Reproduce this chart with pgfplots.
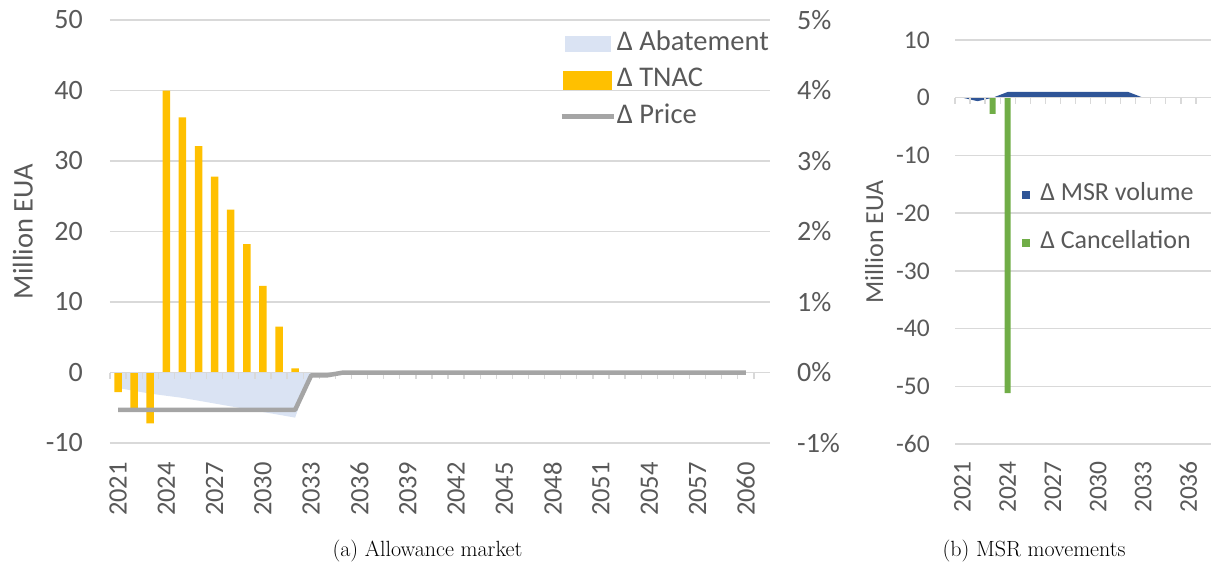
\documentclass[border=0pt]{standalone}
\usepackage{pgfplots}
\pgfplotsset{compat=1.18}
\usepackage{fontspec}
\newfontfamily\calibri{Carlito}
\definecolor{txt}{HTML}{595959}
\definecolor{gridc}{HTML}{D9D9D9}
\definecolor{tnac}{HTML}{FFC000}
\definecolor{abate}{HTML}{DAE3F3}
\definecolor{price}{HTML}{A5A5A5}
\definecolor{msr}{HTML}{2F5597}
\definecolor{canc}{HTML}{70AD47}
\pgfplotsset{
  chartbase/.style={
    scale only axis, anchor=south west,
    axis line style={draw=none},
    tick style={draw=none},
    tick label style={text=txt},
    ymajorgrids, grid style={gridc, line width=1.3pt},
    ylabel style={anchor=center, text=txt},
    xlabel style={anchor=base, font=\fontsize{22}{22}\selectfont, text=black},
  },
  zeroline/.style={
    scale only axis, anchor=south west,
    axis x line*=middle, axis y line*=right,
    x axis line style={gridc, line width=1.5pt},
    y axis line style={draw=none},
    xticklabels={}, tick align=outside, major tick length=6pt,
    xtick style={gridc, line width=1.3pt},
    ytick style={draw=none},
  },
}
\begin{document}
\begin{tikzpicture}[x=1pt,y=1pt]
\useasboundingbox (0,0) rectangle (1216,563);

% ---------------- (a) Allowance market ----------------
\begin{axis}[chartbase,
  at={(110pt,120pt)}, width=660pt, height=423pt,
  xmin=-0.5, xmax=40.5, ymin=-10, ymax=50,
  ytick={-10,0,10,20,30,40,50}, yticklabels={-10,0,10,20,30,40,50},
  yticklabel style={font=\calibri\fontsize{28}{28}\selectfont, inner sep=0pt, anchor=east, xshift=-27pt},
  xticklabel style={font=\calibri\fontsize{26.5}{26.5}\selectfont, inner sep=0pt, yshift=-19pt, rotate=90, anchor=east},
  xtick={0,3,...,39},
  xticklabels={2021,2024,2027,2030,2033,2036,2039,2042,2045,2048,2051,2054,2057,2060},
  ylabel={Million EUA}, ylabel style={at={(axis description cs:-0.132,0.5)}, font=\calibri\fontsize{28.5}{28.5}\selectfont},
  xlabel={(a) Allowance market}, xlabel style={at={(axis description cs:0.481,0)}, yshift=-113pt},
]
\addplot[fill=abate, draw=none] coordinates {
 (0,0) (0,-2.2) (1,-2.6) (2,-3.0) (3,-3.3) (4,-3.6) (5,-4.0) (6,-4.4) (7,-4.8)
 (8,-5.2) (9,-5.6) (10,-6.0) (11,-6.4) (12,0)};
\addplot[ybar, bar width=7.5pt, bar shift=0pt, fill=tnac, draw=none] coordinates {
 (0,-2.8) (1,-5.0) (2,-7.2) (3,40.0) (4,36.2) (5,32.1) (6,27.8) (7,23.1)
 (8,18.2) (9,12.3) (10,6.5) (11,0.6)};
\end{axis}

\begin{axis}[zeroline,
  at={(110pt,120pt)}, width=660pt, height=423pt,
  xmin=-0.5, xmax=40.5, ymin=-1, ymax=5,
  xtick={-0.5,0.5,...,40.5},
  ytick={-1,0,1,2,3,4,5}, yticklabels={-1\%,0\%,1\%,2\%,3\%,4\%,5\%},
  yticklabel style={font=\calibri\fontsize{28}{28}\selectfont, text=txt, inner sep=0pt, anchor=west, xshift=21pt},
  legend style={at={(rel axis cs:1,1)}, anchor=north east, yshift=-9pt, draw=none, fill=none,
     font=\calibri\fontsize{28.5}{28.5}\selectfont, text=txt, inner sep=0pt, row sep=7.5pt,
     nodes={inner sep=1pt, text height=20pt, text depth=7pt}},
  legend cell align=left,
]
\addlegendimage{legend image code/.code={\fill[abate] (0pt,-7.5pt) rectangle (45pt,7.5pt);}}
\addlegendentry{Δ Abatement}
\addlegendimage{legend image code/.code={\fill[tnac] (-2pt,-9pt) rectangle (46pt,9pt);}}
\addlegendentry{Δ TNAC}
\addplot[price, line width=4.5pt, line join=round,
  legend image code/.code={\draw[price, line width=4.5pt] (-4pt,0pt) -- (48pt,0pt);}]
 coordinates {
 (0,-0.53) (1,-0.53) (2,-0.53) (3,-0.53) (4,-0.53) (5,-0.53) (6,-0.53) (7,-0.53)
 (8,-0.53) (9,-0.53) (10,-0.53) (11,-0.53) (12,-0.04) (13,-0.04) (14,0) (15,0)
 (16,0) (17,0) (18,0) (19,0) (20,0) (21,0) (22,0) (23,0) (24,0) (25,0) (26,0)
 (27,0) (28,0) (29,0) (30,0) (31,0) (32,0) (33,0) (34,0) (35,0) (36,0) (37,0)
 (38,0) (39,0)};
\addlegendentry{Δ Price}
\end{axis}

% ---------------- (b) MSR movements ----------------
\begin{axis}[chartbase,
  at={(955pt,119pt)}, width=256pt, height=404pt,
  xmin=-0.5, xmax=16.5, ymin=-60, ymax=10,
  ytick={-60,-50,-40,-30,-20,-10,0,10}, yticklabels={-60,-50,-40,-30,-20,-10,0,10},
  yticklabel style={font=\calibri\fontsize{25.5}{25.5}\selectfont, inner sep=0pt, anchor=east, xshift=-25pt},
  xticklabel style={font=\calibri\fontsize{25.5}{25.5}\selectfont, inner sep=0pt, yshift=-17pt, rotate=90, anchor=east},
  xtick={0,3,...,15},
  xticklabels={2021,2024,2027,2030,2033,2036},
  ylabel={Million EUA}, ylabel style={at={(axis description cs:-0.316,0.5)}, font=\calibri\fontsize{26}{26}\selectfont},
  xlabel={(b) MSR movements}, xlabel style={at={(axis description cs:0.309,0)}, yshift=-112pt},
  legend style={at={(rel axis cs:0.262,0.65)}, anchor=north west, draw=none, fill=none,
     font=\calibri\fontsize{26}{26}\selectfont, text=txt, inner sep=0pt, row sep=22pt,
     nodes={inner sep=1pt, text height=18pt, text depth=6pt}},
  legend cell align=left,
]
\addplot[fill=msr, draw=none,
  legend image code/.code={\fill[msr] (0pt,-4pt) rectangle (8pt,4pt); \path (17pt,0pt);}]
 coordinates {(0,0) (1,-0.6) (2,0) (3,1.0) (4,1.0) (5,1.0) (6,1.0) (7,1.0) (8,1.0)
 (9,1.0) (10,1.0) (11,1.0) (12,0)};
\addlegendentry{Δ MSR volume}
\addplot[ybar, bar width=6pt, bar shift=0pt, fill=canc, draw=none,
  legend image code/.code={\fill[canc] (0pt,-4pt) rectangle (8pt,4pt); \path (17pt,0pt);}]
 coordinates {(2,-2.8) (3,-51.2)};
\addlegendentry{Δ Cancellation}
\end{axis}

\begin{axis}[zeroline,
  at={(955pt,119pt)}, width=256pt, height=404pt,
  xmin=-0.5, xmax=16.5, ymin=-60, ymax=10,
  xtick={-0.5,0.5,...,16.5}, ytick=\empty,
]
\end{axis}
\end{tikzpicture}
\end{document}
